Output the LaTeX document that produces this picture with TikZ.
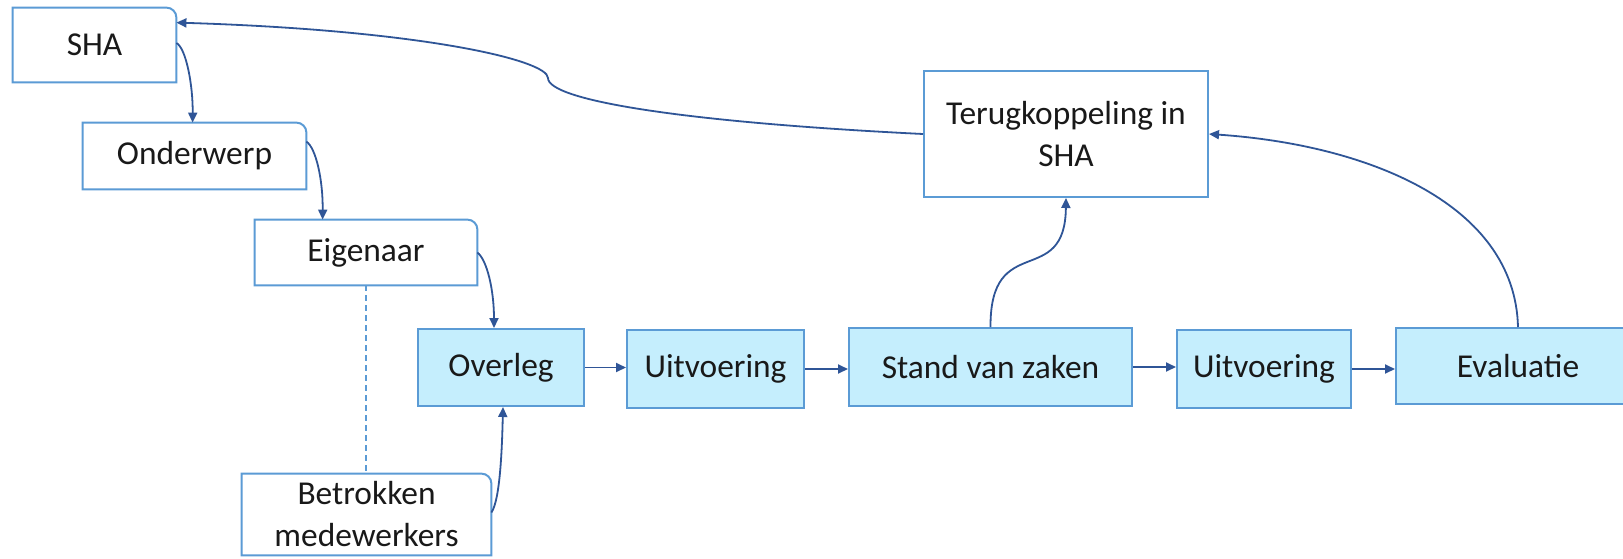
\documentclass[tikz,border=0pt]{standalone}
\usepackage{fontspec}
\setmainfont{Carlito}
\usetikzlibrary{arrows.meta,calc}
\definecolor{bordc}{RGB}{91,155,213}
\definecolor{fillc}{RGB}{197,238,253}
\definecolor{connc}{RGB}{47,85,151}
\definecolor{txtc}{RGB}{25,25,25}
\begin{document}
\begin{tikzpicture}[x=0.5pt,y=-0.5pt,
  every node/.style={font=\fontsize{16.7}{21}\selectfont, text=txtc, inner sep=0pt, align=center},
  wbox/.style={minimum width=#1},
  bbox/.style={draw=bordc, fill=fillc, line width=1pt},
  tbox/.style={draw=bordc, fill=white, line width=1pt},
  bord/.style={draw=bordc, line width=1pt},
  conn/.style={draw=connc, line width=0.9pt, -{Triangle[length=5pt,width=4.5pt]}},
  dashline/.style={draw=bordc, line width=0.7pt, dash pattern=on 3pt off 2pt}
]
\useasboundingbox (0,0) rectangle (1623,558);
\clip (0,0) rectangle (1623,558);
\fill[white] (0,0) rectangle (1623,558);

% white boxes with one rounded corner
\node[minimum width=81.5pt, minimum height=37pt] (SHA) at (94.5,45) {SHA};
\node[minimum width=111.5pt, minimum height=33pt] (Onderwerp) at (194.5,156) {Onderwerp};
\node[minimum width=111pt, minimum height=32.5pt] (Eigenaar) at (366,252.5) {Eigenaar};
\node[minimum width=124.5pt, minimum height=40.5pt] (Betrokken) at (366.5,514.5) {Betrokken\\medewerkers};
\foreach \n in {SHA,Onderwerp,Eigenaar,Betrokken}{
  \draw[bord] (\n.south west) -- (\n.north west) -- ([xshift=-5pt]\n.north east)
    arc[start angle=90,end angle=0,radius=5pt] -- (\n.south east) -- cycle;
}

% feedback box
\node[tbox, minimum width=142pt, minimum height=63pt] (Terug) at (1066,134) {Terugkoppeling in\\SHA};

% blue process boxes
\node[bbox, minimum width=83pt, minimum height=38.5pt] (Overleg) at (501,367.5) {Overleg};
\node[bbox, minimum width=88.5pt, minimum height=39pt] (Uitv1) at (715.5,369) {Uitvoering};
\node[bbox, minimum width=141.5pt, minimum height=39pt] (Stand) at (990.5,367) {Stand van zaken};
\node[bbox, minimum width=87pt, minimum height=39pt] (Uitv2) at (1264,369) {Uitvoering};
\node[bbox, minimum width=122pt, minimum height=38pt] (Eval) at (1518,366) {Evaluatie};

% dashed link
\draw[dashline] (Eigenaar.south) -- (Eigenaar.south |- Betrokken.north);

% curved connectors on the left
\draw[conn] ([yshift=1pt]SHA.east) .. controls (186,48) and (193,85) .. ([xshift=55pt]Onderwerp.north west);
\draw[conn] ([yshift=-9.5pt]Onderwerp.north east) .. controls (316,148) and (323,180) .. ([xshift=34pt]Eigenaar.north west);
\draw[conn] (Eigenaar.east) .. controls (487,260) and (494,290) .. ([xshift=38.5pt]Overleg.north west);
\draw[conn] ([yshift=1pt]Betrokken.east) .. controls (500,500) and (502,450) .. ([xshift=1pt]Overleg.south);

% straight process arrows
\draw[conn] (Overleg.east) -- (Overleg.east -| Uitv1.west);
\draw[conn] (Uitv1.east) -- (Uitv1.east -| Stand.west);
\draw[conn] (Stand.east) -- (Stand.east -| Uitv2.west);
\draw[conn] (Uitv2.east) -- (Uitv2.east -| Eval.west);

% feedback connectors
\draw[conn] (Stand.north) .. controls (990,230) and (1065,290) .. (Terug.south);
\draw[conn] (Eval.north) .. controls (1515,205) and (1370,145) .. (Terug.east);
\draw[conn] (Terug.west) .. controls (680,122) and (548,100) .. (548,78)
  .. controls (548,60) and (420,30) .. ([yshift=-7.5pt]SHA.north east);
\end{tikzpicture}
\end{document}
